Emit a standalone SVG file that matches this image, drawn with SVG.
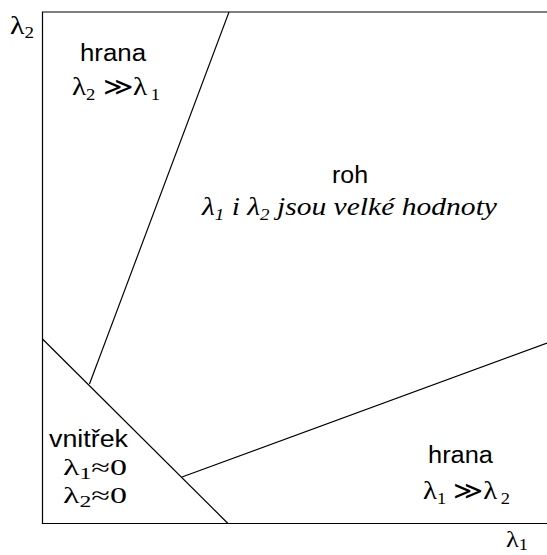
<svg xmlns="http://www.w3.org/2000/svg" width="547" height="555" viewBox="0 0 547 555">
<style>
.ln{stroke:#000;stroke-width:1.2;fill:none}
.s{font-family:"Liberation Sans",Arial,sans-serif;font-size:23px;fill:#000}
.m{font-family:"Liberation Serif","Times New Roman","DejaVu Serif",serif;font-size:25px;fill:#000}
.v{font-size:23px}
.i{font-style:italic}
.sub{font-size:16px}
</style>
<rect width="547" height="555" fill="#fff"/>
<g id="connectors">
<polyline class="ln" points="547,12 42.5,12 42.5,523.5 547,523.5"/>
<line class="ln" x1="229" y1="12" x2="89.5" y2="384"/>
<line class="ln" x1="42.5" y1="339" x2="228" y2="523.5"/>
<line class="ln" x1="182" y1="477" x2="547" y2="343"/>
</g>
<g id="axis-y"><text class="m" x="10" y="34" textLength="24" lengthAdjust="spacingAndGlyphs">λ<tspan class="sub" dy="4">2</tspan></text></g>
<g id="axis-x"><text class="m v" x="506" y="547" textLength="22" lengthAdjust="spacingAndGlyphs">λ<tspan class="sub" dy="3">1</tspan></text></g>
<g id="hrana-top">
<text class="s" x="80" y="61" textLength="66" lengthAdjust="spacingAndGlyphs">hrana</text>
<text class="m" x="72" y="95" textLength="88" lengthAdjust="spacingAndGlyphs">λ<tspan class="sub" dy="5">2</tspan><tspan dy="-5"> ≫λ</tspan><tspan class="sub" dx="3" dy="5">1</tspan></text>
</g>
<g id="roh">
<text class="s" x="332" y="183" textLength="36" lengthAdjust="spacingAndGlyphs">roh</text>
<text class="m i" x="202" y="215" textLength="295" lengthAdjust="spacingAndGlyphs">λ<tspan class="sub" dy="5">1</tspan><tspan dy="-5"> i λ</tspan><tspan class="sub" dy="5">2</tspan><tspan dy="-5"> jsou velké hodnoty</tspan></text>
</g>
<g id="vnitrek">
<text class="s" x="49" y="447" textLength="79" lengthAdjust="spacingAndGlyphs">vnitřek</text>
<text class="m v" x="63" y="475" textLength="64" lengthAdjust="spacingAndGlyphs">λ<tspan class="sub" dy="4">1</tspan><tspan dy="-4">≈0</tspan></text>
<text class="m v" x="63" y="503" textLength="64" lengthAdjust="spacingAndGlyphs">λ<tspan class="sub" dy="4">2</tspan><tspan dy="-4">≈0</tspan></text>
</g>
<g id="hrana-bottom">
<text class="s" x="428" y="463" textLength="65" lengthAdjust="spacingAndGlyphs">hrana</text>
<text class="m" x="423" y="499" textLength="87" lengthAdjust="spacingAndGlyphs">λ<tspan class="sub" dy="5">1</tspan><tspan dy="-5"> ≫λ</tspan><tspan class="sub" dx="3" dy="5">2</tspan></text>
</g>
</svg>
